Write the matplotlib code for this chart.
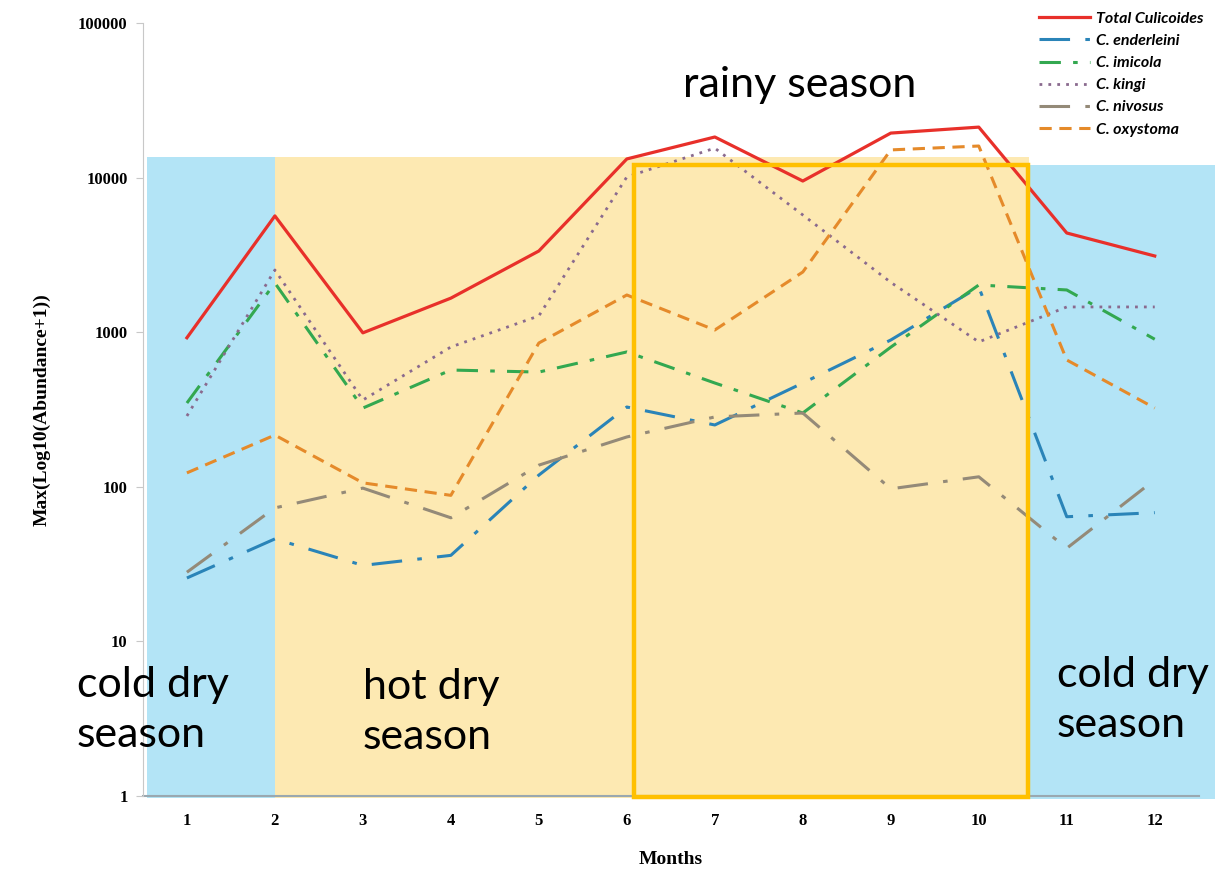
import matplotlib.pyplot as plt
from matplotlib.patches import Rectangle

# Monatswerte
months = list(range(1, 13))
total = [920, 5650, 990, 1660, 3350, 13200, 18300, 9500, 19400, 21200, 4380, 3110]
enderleini = [25.7, 46, 31, 36, 119, 328, 251, 469, 890, 1960, 64, 68]
imicola = [348, 2080, 323, 569, 552, 745, 469, 300, 800, 2020, 1875, 900]
kingi = [287, 2525, 364, 802, 1274, 10100, 15500, 5730, 2100, 865, 1456, 1456]
nivosus = [28, 73, 98, 63, 138, 210, 283, 300, 97, 116, 40, 111]
oxystoma = [123, 216, 106, 88, 851, 1740, 1033, 2450, 15100, 16000, 661, 323]

fig = plt.figure(figsize=(12.32, 8.77), dpi=100)
ax = fig.add_axes([0.116, 0.0924, 0.857, 0.8814])

# Jahreszeiten als Hintergrund
ax.add_patch(Rectangle((0.55, 0.97), 1.45, 13600 - 0.97, facecolor="#b3e4f6",
                       edgecolor="none", zorder=0, clip_on=False))
ax.add_patch(Rectangle((2.0, 0.97), 8.57, 13600 - 0.97, facecolor="#fde9b2",
                       edgecolor="none", zorder=0, clip_on=False))
ax.add_patch(Rectangle((10.57, 0.95), 2.12, 12000 - 0.95, facecolor="#b3e4f6",
                       edgecolor="none", zorder=0, clip_on=False))
ax.add_patch(Rectangle((6.08, 0.985), 4.48, 12000 - 0.985, facecolor="none",
                       edgecolor="#ffc000", lw=3.2, zorder=5, clip_on=False))

ax.plot(months, total, color="#e8302a", lw=2.3, label="Total Culicoides", zorder=4)
ax.plot(months, enderleini, color="#2a84b8", lw=2.2, dashes=(10, 5, 1.5, 5),
        label="C. enderleini", zorder=3)
ax.plot(months, imicola, color="#33a850", lw=2.2, dashes=(7, 4, 1.5, 4),
        label="C. imicola", zorder=3)
ax.plot(months, kingi, color="#8a6a8e", lw=2.0, dashes=(1, 2.2),
        label="C. kingi", zorder=3)
ax.plot(months, nivosus, color="#948a78", lw=2.2, dashes=(10, 5, 1.5, 5),
        label="C. nivosus", zorder=3)
ax.plot(months, oxystoma, color="#e58a2a", lw=2.2, dashes=(4, 2.5),
        label="C. oxystoma", zorder=3)

ax.set_yscale("log")
ax.set_ylim(1, 100000)
ax.set_xlim(0.5, 12.5)
ax.set_xticks(months)
ax.set_yticks([1, 10, 100, 1000, 10000, 100000])
ax.set_yticklabels(["1", "10", "100", "1000", "10000", "100000"])
ax.minorticks_off()
ax.tick_params(axis="x", length=0, pad=12)
ax.tick_params(axis="y", length=5, color="#c8c8c8", pad=6)
for lab in ax.get_xticklabels() + ax.get_yticklabels():
    lab.set_family("Liberation Serif")
    lab.set_fontweight("bold")
    lab.set_fontsize(12)

for s in ["top", "right"]:
    ax.spines[s].set_visible(False)
ax.spines["left"].set_color("#c8c8c8")
ax.spines["bottom"].set_color("#9aa8b0")
ax.spines["bottom"].set_linewidth(1.5)
ax.spines["bottom"].set_zorder(1)

ax.set_xlabel("Months", family="Liberation Serif", fontweight="bold",
              fontsize=14, labelpad=16)
ax.set_ylabel("Max(Log10(Abundance+1))", family="Liberation Serif",
              fontweight="bold", fontsize=14, labelpad=20)

leg = ax.legend(loc="upper left", bbox_to_anchor=(0.838, 0.994),
                bbox_transform=fig.transFigure, frameon=False, handlelength=3.2,
                labelspacing=0.5, borderaxespad=0, handletextpad=0.4,
                prop={"family": "Lato", "weight": "bold", "style": "italic", "size": 11.5})

txt = dict(family="Lato", fontsize=31, color="black", va="top", ha="left")
fig.text(77 / 1232, 1 - 666 / 877, "cold dry\nseason", linespacing=1.4, **txt)
fig.text(363 / 1232, 1 - 668 / 877, "hot dry\nseason", linespacing=1.4, **txt)
fig.text(1057 / 1232, 1 - 656 / 877, "cold dry\nseason", linespacing=1.4, **txt)
fig.text(683 / 1232, 1 - 66 / 877, "rainy season", **txt)

fig.savefig("out.png", dpi=100)
